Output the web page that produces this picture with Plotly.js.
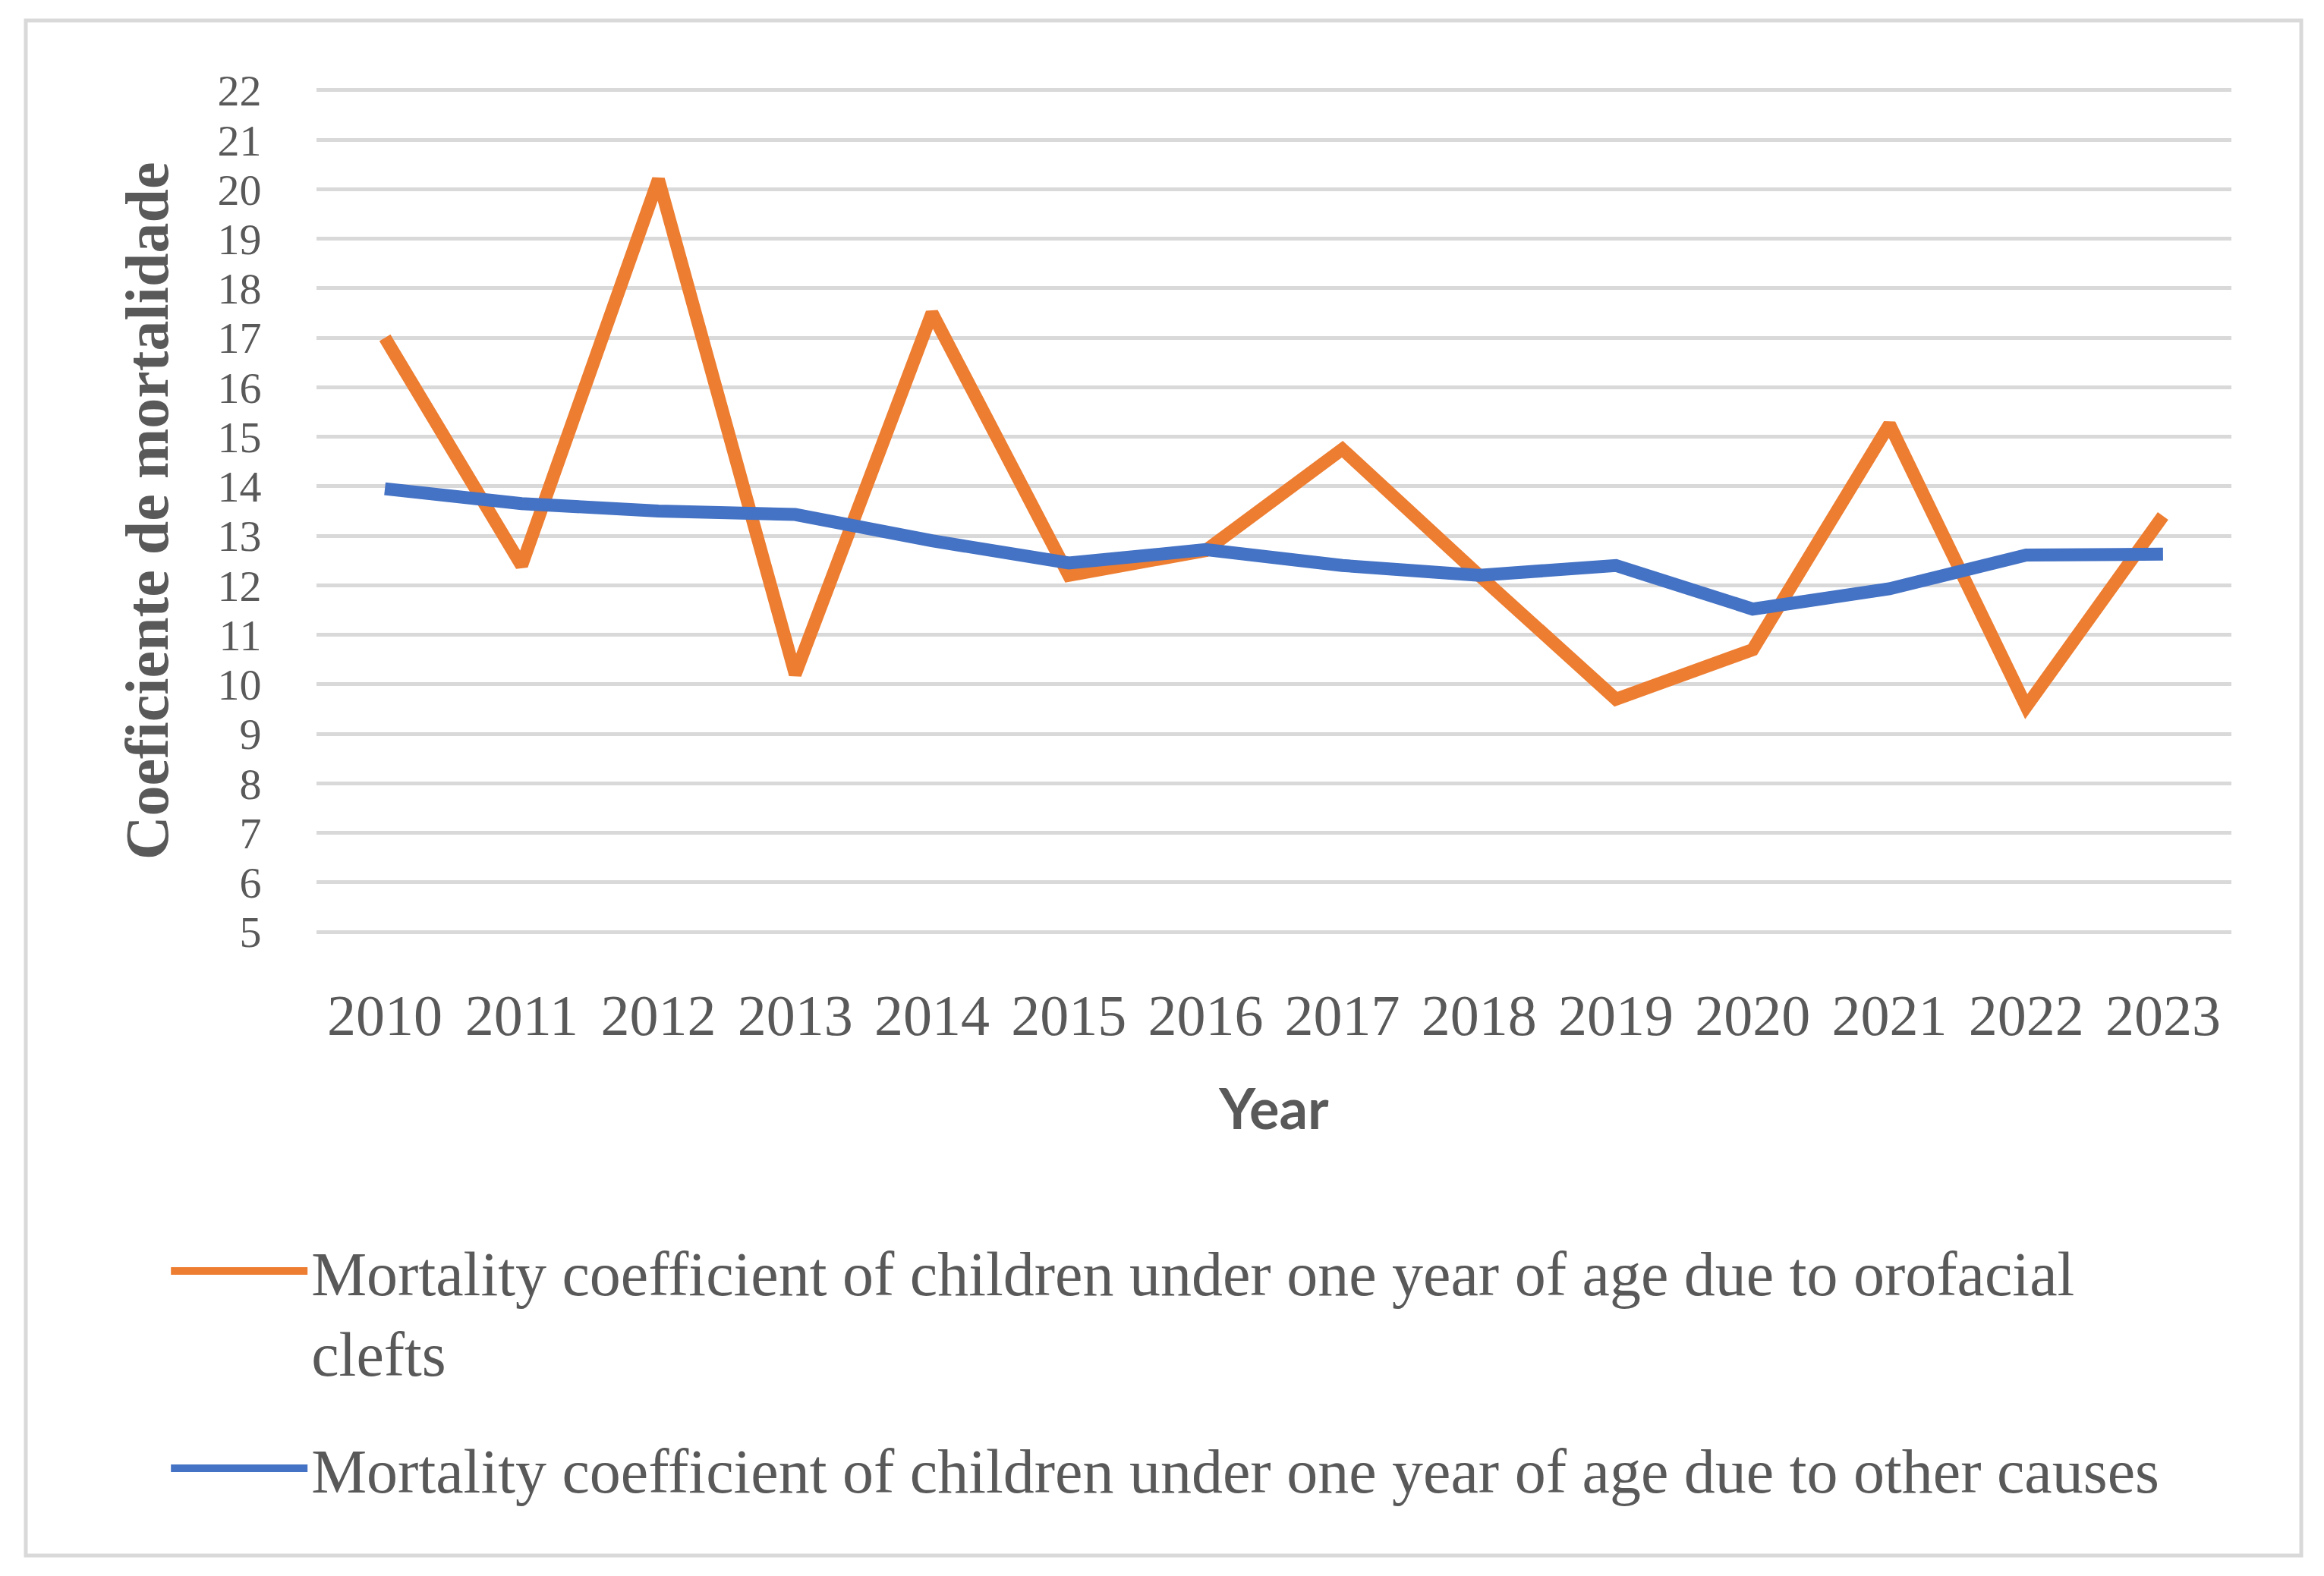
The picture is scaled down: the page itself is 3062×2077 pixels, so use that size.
<!DOCTYPE html>
<html>
<head>
<meta charset="utf-8">
<script src="https://cdn.plot.ly/plotly-3.0.1.min.js"></script>
<style>html,body{margin:0;padding:0;background:#fff;}#chart{width:3062px;height:2077px;}</style>
</head>
<body>
<div id="chart"></div>
<script>
const years = ['2010','2011','2012','2013','2014','2015','2016','2017','2018','2019','2020','2021','2022','2023'];
const orofacial = [17.0, 12.4, 20.2, 10.2, 17.5, 12.2, 12.7, 14.75, 12.2, 9.7, 10.7, 15.25, 9.55, 13.4];
const otherCauses = [13.95, 13.65, 13.5, 13.43, 12.9, 12.45, 12.72, 12.4, 12.2, 12.4, 11.52, 11.93, 12.61, 12.63];
const yTicks = [5,6,7,8,9,10,11,12,13,14,15,16,17,18,19,20,21,22];
const nameOro = 'Mortality coefficient of children under one year of age due to orofacial<br>clefts';
const nameOther = 'Mortality coefficient of children under one year of age due to other causes';

const serif = '"Liberation Serif", "DejaVu Serif", serif';
const gray = '#595959';

const traces = [
  {x: years, y: orofacial, type: 'scatter', mode: 'lines', name: nameOro, legendgroup: 'a',
   line: {color: '#ED7D31', width: 17}},
  {x: years, y: otherCauses, type: 'scatter', mode: 'lines', name: nameOther, legendgroup: 'b',
   line: {color: '#4472C4', width: 17}}
];

const layout = {
  width: 3062, height: 2077,
  paper_bgcolor: '#fff', plot_bgcolor: '#fff',
  margin: {l: 417, r: 122, t: 117, b: 847},
  font: {family: serif, color: gray, size: 74},
  xaxis: {
    type: 'category', range: [-0.5, years.length - 0.5],
    showgrid: false, zeroline: false, showline: false,
    ticks: 'outside', ticklen: 42, tickcolor: 'rgba(0,0,0,0)',
    tickfont: {family: serif, size: 76, color: gray},
    title: {text: 'Year', font: {family: 'Lato, "Open Sans", sans-serif', size: 74, color: gray, weight: 'bold'}, standoff: 56}
  },
  yaxis: {
    range: [4.97, 22.03], tickvals: yTicks, ticktext: yTicks.map(String),
    showgrid: true, gridcolor: '#D9D9D9', gridwidth: 5, zeroline: false, showline: false,
    ticks: 'outside', ticklen: 60, tickcolor: 'rgba(0,0,0,0)',
    tickfont: {family: serif, size: 58, color: gray},
    title: {text: 'Coeficiente de mortalidade', font: {family: serif, size: 80, color: gray, weight: 'bold'}, standoff: 38}
  },
  showlegend: true,
  legend: {
    orientation: 'v', x: -0.078, xanchor: 'left', y: -0.346, yanchor: 'top',
    font: {family: serif, size: 82, color: gray}, itemwidth: 180, valign: 'top',
    tracegroupgap: 44, traceorder: 'grouped', bgcolor: 'rgba(0,0,0,0)'
  },
  shapes: [
    {type: 'rect', xref: 'paper', yref: 'paper',
     x0: (34-417)/2523, x1: (3032-417)/2523, y0: (1230-27)/1113, y1: (1230-2050)/1113,
     line: {color: '#D9D9D9', width: 5}, fillcolor: 'rgba(0,0,0,0)', layer: 'below'}
  ]
};

Plotly.newPlot('chart', traces, layout, {displayModeBar: false, staticPlot: true});
</script>
</body>
</html>
